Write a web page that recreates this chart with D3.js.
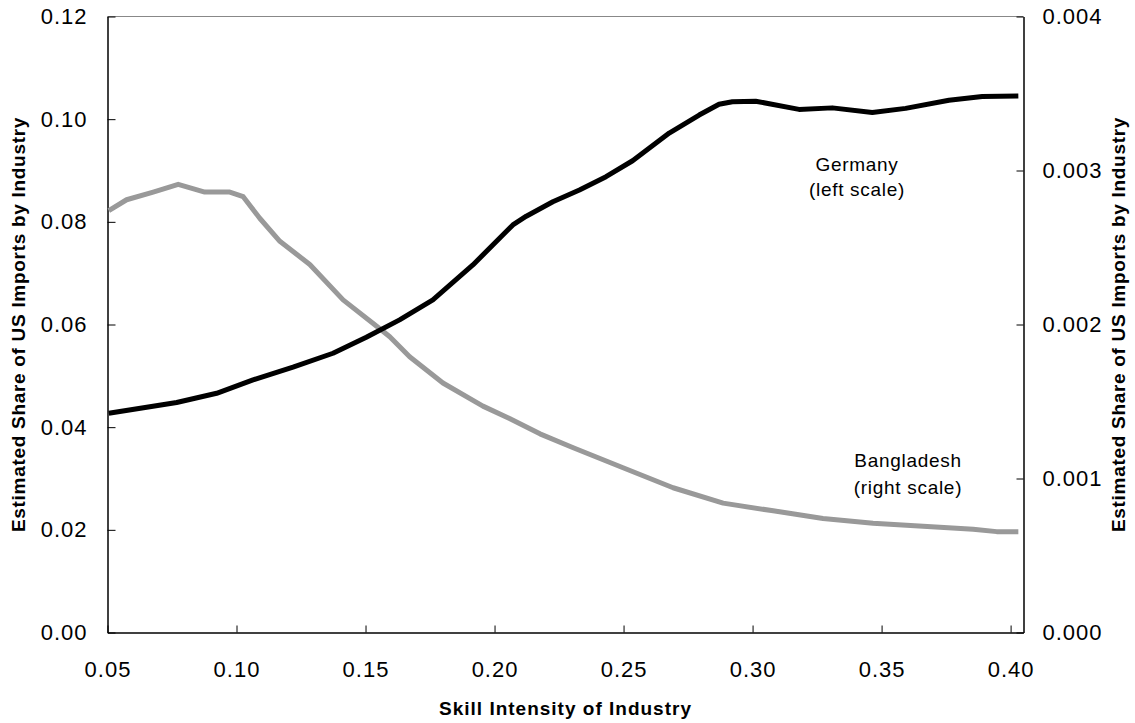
<!DOCTYPE html>
<html>
<head>
<meta charset="utf-8">
<script src="https://cdn.jsdelivr.net/npm/d3@7"></script>
<style>
  body { margin: 0; background: #fff; }
  svg { font-family: "Liberation Sans", Arial, sans-serif; }
  .axis path, .axis line { stroke: #000; }
  .axis text { font-size: 22px; letter-spacing: 1px; fill: #000; }
  .axis-title { font-size: 19px; font-weight: bold; fill: #000; }
  .note { font-size: 19px; letter-spacing: 0.7px; fill: #000; }
</style>
</head>
<body>
<div id="chart"></div>
<script>
const width = 1135,
  height = 723,
  margin = { top: 16.5, bottom: 90.5, left: 107.5, right: 111.5 };

// skill intensity (x) and estimated share (y)
const germanyX = [0.0505, 0.0768, 0.0923, 0.1064, 0.1219, 0.1374, 0.1503, 0.1632, 0.1761, 0.1916,
  0.2071, 0.2123, 0.2226, 0.2329, 0.2432, 0.2535, 0.2677, 0.2793, 0.2870, 0.2922,
  0.3012, 0.3180, 0.3309, 0.3464, 0.3593, 0.3761, 0.3890, 0.4030];
const germanyY = [0.0427, 0.0448, 0.0466, 0.0492, 0.0517, 0.0544, 0.0575, 0.0609, 0.0648, 0.0716,
  0.0794, 0.0811, 0.0839, 0.0862, 0.0888, 0.0919, 0.0973, 0.1008, 0.1029, 0.1034,
  0.1035, 0.1019, 0.1022, 0.1013, 0.1021, 0.1037, 0.1044, 0.1045];

const bangladeshX = [0.0505, 0.0574, 0.0677, 0.0774, 0.0877, 0.0974, 0.1026, 0.1090, 0.1168, 0.1284,
  0.1413, 0.1542, 0.1594, 0.1671, 0.1800, 0.1955, 0.2058, 0.2176, 0.2305, 0.2498,
  0.2692, 0.2886, 0.3080, 0.3273, 0.3467, 0.3661, 0.3855, 0.3946, 0.4030];
const bangladeshY = [0.00274, 0.00281, 0.00286, 0.00291, 0.00286, 0.00286, 0.00283, 0.00269, 0.00254, 0.00239,
  0.00216, 0.00199, 0.00192, 0.00179, 0.00162, 0.00147, 0.00139, 0.00129, 0.00120, 0.00107,
  0.00094, 0.00084, 0.00079, 0.00074, 0.00071, 0.00069, 0.00067, 0.000655, 0.000655];

const xTicks = [0.05, 0.10, 0.15, 0.20, 0.25, 0.30, 0.35, 0.40];
const leftTicks = [0, 0.02, 0.04, 0.06, 0.08, 0.10, 0.12];
const rightTicks = [0, 0.001, 0.002, 0.003, 0.004];

const svg = d3
  .select("#chart")
  .append("svg")
  .attr("width", width)
  .attr("height", height);

const xScale = d3.scaleLinear()
  .domain([0.05, 0.405])
  .range([margin.left, width - margin.right]);

const yLeft = d3.scaleLinear()
  .domain([0, 0.12])
  .range([height - margin.bottom, margin.top]);

const yRight = d3.scaleLinear()
  .domain([0, 0.004])
  .range([height - margin.bottom, margin.top]);

// top border
svg.append("line")
  .attr("x1", margin.left).attr("x2", width - margin.right)
  .attr("y1", margin.top).attr("y2", margin.top)
  .attr("stroke", "#888")
  .attr("stroke-width", 1);

const xAxis = d3.axisBottom(xScale)
  .tickValues(xTicks)
  .tickFormat(d3.format(".2f"))
  .tickSizeInner(-7)
  .tickSizeOuter(0)
  .tickPadding(29);

const leftAxis = d3.axisLeft(yLeft)
  .tickValues(leftTicks)
  .tickFormat(d3.format(".2f"))
  .tickSizeInner(-8)
  .tickSizeOuter(0)
  .tickPadding(20);

const rightAxis = d3.axisRight(yRight)
  .tickValues(rightTicks)
  .tickFormat(d3.format(".3f"))
  .tickSizeInner(-7)
  .tickSizeOuter(0)
  .tickPadding(19);

svg.append("g")
  .attr("class", "axis x-axis")
  .attr("transform", `translate(0,${height - margin.bottom})`)
  .call(xAxis);

svg.append("g")
  .attr("class", "axis y-axis")
  .attr("transform", `translate(${margin.left},0)`)
  .call(leftAxis);

svg.append("g")
  .attr("class", "axis y-axis-right")
  .attr("transform", `translate(${width - margin.right},0)`)
  .call(rightAxis);

svg.selectAll(".axis path").attr("stroke-width", 1.5);

// axis titles
const midY = (margin.top + height - margin.bottom) / 2;

svg.append("text")
  .attr("class", "axis-title")
  .attr("x", (margin.left + width - margin.right) / 2)
  .attr("y", 708)
  .attr("dy", "0.35em")
  .attr("text-anchor", "middle")
  .style("letter-spacing", "1px")
  .text("Skill Intensity of Industry");

svg.append("text")
  .attr("class", "axis-title")
  .attr("transform", `translate(18,${midY}) rotate(-90)`)
  .attr("dy", "0.35em")
  .attr("text-anchor", "middle")
  .style("letter-spacing", "0.7px")
  .text("Estimated Share of US Imports by Industry");

svg.append("text")
  .attr("class", "axis-title")
  .attr("transform", `translate(1118,${midY}) rotate(-90)`)
  .attr("dy", "0.35em")
  .attr("text-anchor", "middle")
  .style("letter-spacing", "0.7px")
  .text("Estimated Share of US Imports by Industry");

// lines
const germany = germanyX.map((x, i) => ({ x: x, y: germanyY[i] }));
const bangladesh = bangladeshX.map((x, i) => ({ x: x, y: bangladeshY[i] }));

const lineLeft = d3.line().x(d => xScale(d.x)).y(d => yLeft(d.y));
const lineRight = d3.line().x(d => xScale(d.x)).y(d => yRight(d.y));

svg.append("path")
  .datum(bangladesh)
  .attr("d", lineRight)
  .attr("fill", "none")
  .attr("stroke", "#999")
  .attr("stroke-width", 5)
  .attr("stroke-linejoin", "round");

svg.append("path")
  .datum(germany)
  .attr("d", lineLeft)
  .attr("fill", "none")
  .attr("stroke", "#000")
  .attr("stroke-width", 5)
  .attr("stroke-linejoin", "round");

// series notes
svg.append("text").attr("class", "note")
  .attr("x", 857).attr("y", 164).attr("dy", "0.35em")
  .attr("text-anchor", "middle").text("Germany");
svg.append("text").attr("class", "note")
  .attr("x", 857).attr("y", 189).attr("dy", "0.35em")
  .attr("text-anchor", "middle").text("(left scale)");

svg.append("text").attr("class", "note")
  .attr("x", 908).attr("y", 460).attr("dy", "0.35em")
  .attr("text-anchor", "middle").text("Bangladesh");
svg.append("text").attr("class", "note")
  .attr("x", 908).attr("y", 487).attr("dy", "0.35em")
  .attr("text-anchor", "middle").text("(right scale)");
</script>
</body>
</html>
